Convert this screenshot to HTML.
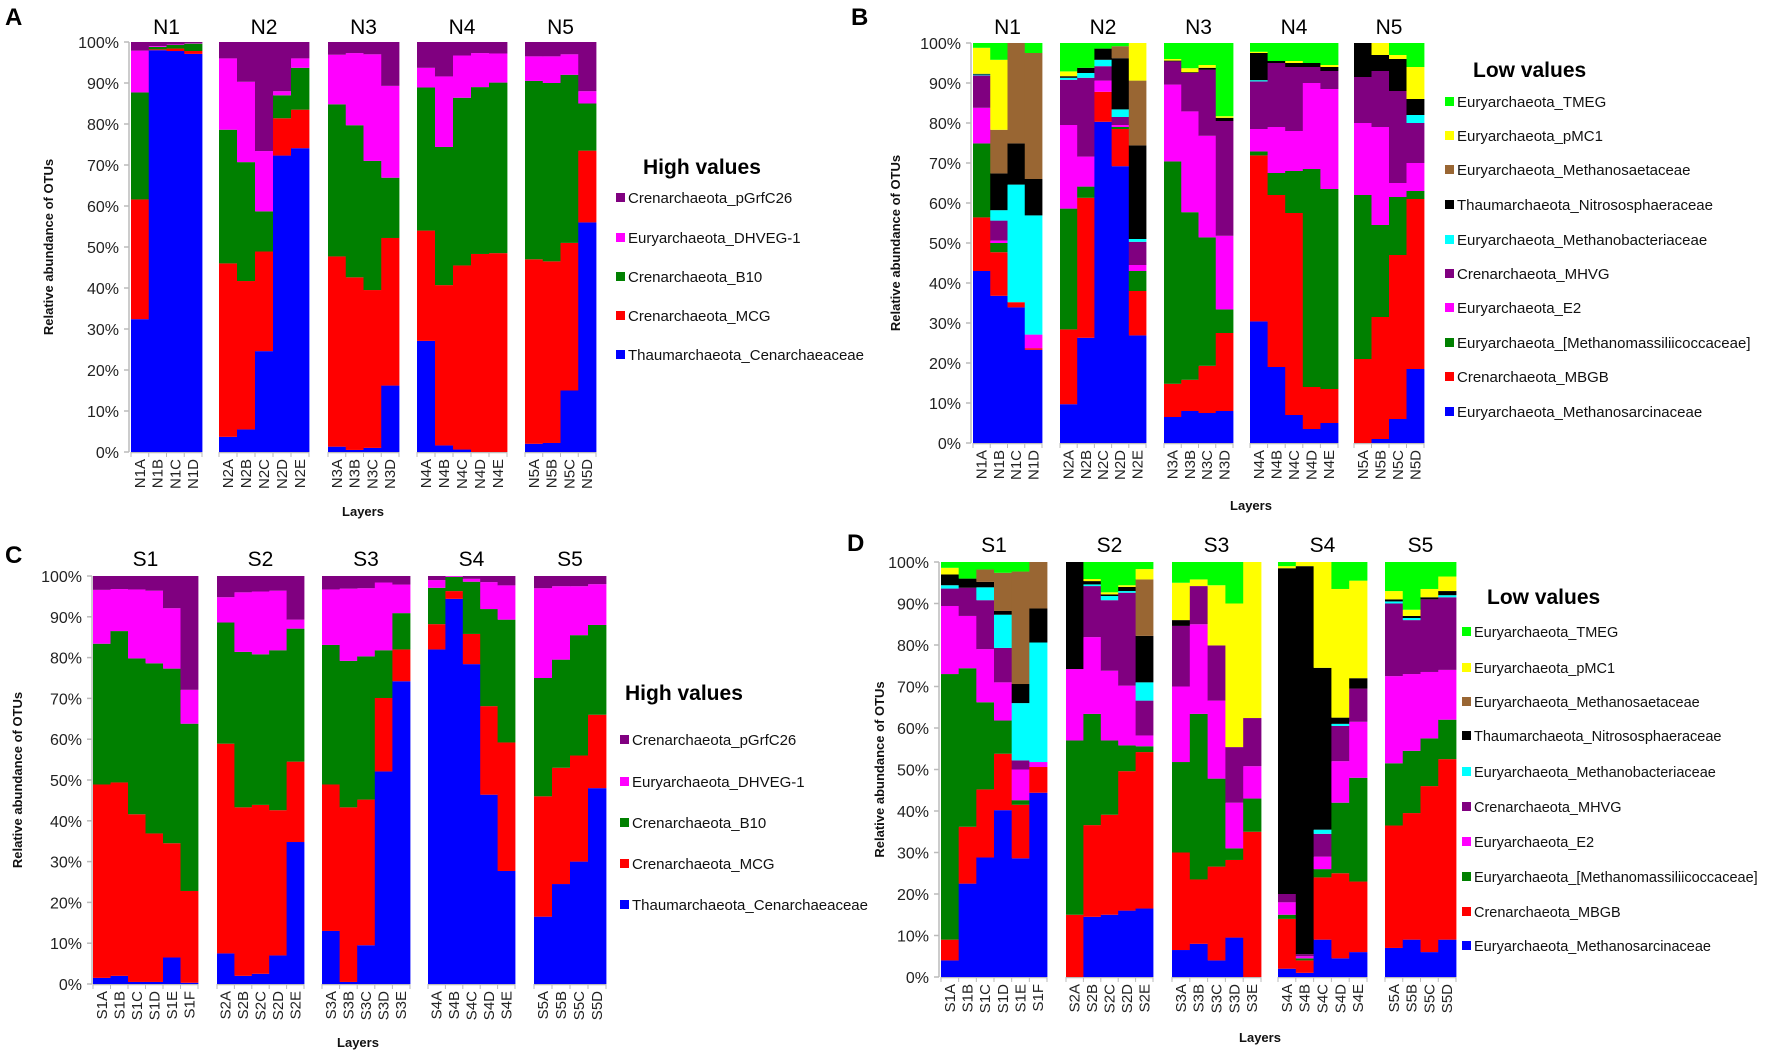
<!DOCTYPE html>
<html><head><meta charset="utf-8"><style>
html,body{margin:0;padding:0;background:#fff;}
svg{display:block;font-family:"Liberation Sans",sans-serif;}
</style></head><body>
<svg id="fig" width="1772" height="1051" viewBox="0 0 1772 1051" xmlns="http://www.w3.org/2000/svg"></svg>
<script>
// ---- series definitions ----
const highNames = ["Thaumarchaeota_Cenarchaeaceae","Crenarchaeota_MCG","Crenarchaeota_B10","Euryarchaeota_DHVEG-1","Crenarchaeota_pGrfC26"];
const highColors = ["#0000ff","#ff0000","#008000","#ff00ff","#800080"];
const lowNames = ["Euryarchaeota_Methanosarcinaceae","Crenarchaeota_MBGB","Euryarchaeota_[Methanomassiliicoccaceae]","Euryarchaeota_E2","Crenarchaeota_MHVG","Euryarchaeota_Methanobacteriaceae","Thaumarchaeota_Nitrososphaeraceae","Euryarchaeota_Methanosaetaceae","Euryarchaeota_pMC1","Euryarchaeota_TMEG"];
const lowColors = ["#0000ff","#ff0000","#008000","#ff00ff","#800080","#00ffff","#000000","#996633","#ffff00","#00ff00"];
const yTicks = ["0%","10%","20%","30%","40%","50%","60%","70%","80%","90%","100%"];

// ---- Panel A: cumulative tops (bottom->top), last series fills to 100 ----
const groupsA = ["N1","N2","N3","N4","N5"];
const labelsA = [["N1A","N1B","N1C","N1D"],["N2A","N2B","N2C","N2D","N2E"],["N3A","N3B","N3C","N3D"],["N4A","N4B","N4C","N4D","N4E"],["N5A","N5B","N5C","N5D"]];
const cumA = [
 [[32.4,61.6,87.7,97.9],[98,98.2,98.8,99],[97.8,98.4,99.3,99.4],[97.1,97.8,99.6,99.7]],
 [[3.7,46,78.6,96],[5.5,41.7,70.7,90.3],[24.6,48.9,58.7,73.4],[72.3,81.4,87,88],[74.1,83.5,93.7,96]],
 [[1.3,47.7,84.8,96.9],[0.5,42.6,79.7,97.3],[1,39.5,71,97],[16.2,52.2,66.9,89.3]],
 [[27.1,54,88.9,93.7],[1.6,40.7,74.4,91.6],[0.6,45.5,86.4,96.7],[0,48.3,89,97.3],[0,48.5,90.1,97.2]],
 [[2,47,90.5,96.5],[2.2,46.5,90,96.5],[15,51,92,97],[56,73.5,85,88]]
];
// ---- Panel B ----
const groupsB = groupsA;
const labelsB = labelsA;
const cumB = [
 [[43,56.4,74.9,83.8,91.9,92.1,92.3,92.3,98.8],[36.8,47.7,50,50.6,55.6,58.2,67.4,78.3,95.8],[33.9,35.2,35.2,35.2,35.2,64.6,74.9,100,100],[23.3,23.7,23.7,27.1,27.1,56.9,66,97.5,97.5]],
 [[9.7,28.4,58.6,79.5,90.8,91.3,91.7,91.7,92.9],[26.3,61.3,64.1,71.6,91.3,92.5,93.8,93.8,93.8],[80.3,87.8,87.8,90.6,94.2,95.8,98.6,98.6,98.6],[69.2,78.5,79,79.5,81.5,83.4,96.2,99.2,99.2],[26.9,38,43,44.5,50.3,51,74.4,90.6,100]],
 [[6.5,14.8,70.4,89.6,95.4,95.4,95.6,95.6,96],[8,15.8,57.7,82.9,92.5,92.5,92.7,92.7,93.7],[7.5,19.3,51.4,76.8,93.3,93.3,93.8,93.8,94.5],[8,27.5,33.4,51.8,80.5,80.5,81.3,81.3,81.7]],
 [[30.4,71.9,72.9,78.5,90.4,90.7,97.5,97.5,97.8],[19,62,67.5,79,95,95,95.5,95.5,95.5],[7,57.5,68,78,94,94,95,95,95.5],[3.5,14,68.5,90,94,94,95,95,95],[5,13.5,63.5,88.5,93,93,94,94,94.5]],
 [[0,21,62,80,91.5,91.5,100,100,100],[1,31.5,54.5,79,93,93,97,97,100],[6,47,61.5,65,88,88,96,96,97],[18.5,61,63,70,80,82,86,86,94]]
];
// ---- Panel C ----
const groupsC = ["S1","S2","S3","S4","S5"];
const labelsC = [["S1A","S1B","S1C","S1D","S1E","S1F"],["S2A","S2B","S2C","S2D","S2E"],["S3A","S3B","S3C","S3D","S3E"],["S4A","S4B","S4C","S4D","S4E"],["S5A","S5B","S5C","S5D"]];
const cumC = [
 [[1.5,48.9,83.4,96.6],[2,49.4,86.5,96.8],[0.5,41.6,79.8,96.7],[0.5,36.9,78.6,96.4],[6.5,34.5,77.3,92.1],[0.3,22.8,63.8,72.1]],
 [[7.5,58.9,88.6,94.8],[2,43.3,81.4,96],[2.5,43.9,80.8,96.2],[7,42.6,81.8,96.4],[34.8,54.5,87.1,89.3]],
 [[13,48.9,83.1,96.7],[0.5,43.3,79.2,96.9],[9.5,45.2,80.3,97],[52.1,70.1,81.8,98.4],[74.2,82,90.9,97.9]],
 [[82,88.2,97.1,99],[94.4,96.3,99.8,100],[78.4,85.8,98.6,99.3],[46.4,68.1,91.9,98.5],[27.7,59.2,89.3,97.7]],
 [[16.5,46,75,97],[24.5,53,79.5,97.5],[30,56,85.5,97.5],[48,66,88,98]]
];
// ---- Panel D ----
const groupsD = groupsC;
const labelsD = labelsC;
const cumD = [
 [[4,9,73,89.4,93.6,94.4,97,97,98.6],[22.5,36.2,74.4,87,93.8,93.8,96,96,96],[28.8,45.2,66.2,79,90.8,93.9,95.2,98.2,98.2],[40.2,53.8,61.8,71,79.3,87.3,88.2,97.4,97.4],[28.6,41.5,42.6,50,52.2,66,70.6,97.7,97.7],[44.4,50.6,50.6,51.8,51.8,80.6,88.8,100,100]],
 [[0,15,57,74.2,74.2,74.2,100,100,100],[14.5,36.6,63.4,81.9,94.2,94.6,95.4,95.4,95.9],[15,39.1,57,73.8,90.8,91.8,92.2,92.2,92.7],[16,49.6,55.8,70.2,92.6,93,94,94,94.4],[16.5,54.2,55.6,58.2,66.6,71,82.2,95.8,98.3]],
 [[6.5,30,51.8,70,84.6,84.6,86,86,95],[8,23.5,63.4,85,94.2,94.2,94.2,94.2,95.8],[4,26.6,47.8,66.6,79.9,79.9,79.9,79.9,94.4],[9.5,28.2,31,42,55.4,55.4,55.4,55.4,90],[0,35,43,50.8,62.4,62.4,62.4,62.4,100]],
 [[2,14,15,18,20,20,98.5,98.5,99],[1,4,4.5,5,5.5,5.5,99,99,100],[9,24,26,29,34.5,35.5,74.5,74.5,100],[4.5,25,42,52,60.5,61,62.5,62.5,93.5],[6,23,48,61.5,69.5,69.5,72,72,95.5]],
 [[7,36.5,51.5,72.5,90,90.5,91,91,93],[9,39.5,54.5,73,86,86.5,87,87,88.5],[6,46,57.5,73.5,91,91,91.5,91.5,93.5],[9,52.5,62,74,91.5,92,93,93,96.5]]
];

const NS = "http://www.w3.org/2000/svg";
const svg = document.getElementById("fig");
function mk(tag, attrs, parent){
  const e = document.createElementNS(NS, tag);
  for (const k in attrs) e.setAttribute(k, attrs[k]);
  (parent||svg).appendChild(e);
  return e;
}
function txt(str, attrs, parent){ const t = mk("text", attrs, parent); t.textContent = str; return t; }

function drawPanel(p){
  const g = mk("g", {});
  
  
  const y = v => p.y0 - (p.y0 - p.y100) * v / 100;
  const L = txt(p.letter, {x:p.letterX, y:p.letterY, "font-size":24, "font-weight":"bold", fill:"#000"}, g);
  
  
  const ax = mk("line", {x1:p.axisX, x2:p.axisX, y1:p.y0, y2:p.y100, stroke:"#bbb", "stroke-width":1.5}, g);
  
  
  yTicks.forEach((lab, i) => {
    const v = i * 10;
    mk("line", {x1:p.axisX-5, x2:p.axisX, y1:y(v), y2:y(v), stroke:"#bbb", "stroke-width":1.5}, g);
    const t = txt(lab, {x:p.axisX-10, y:y(v)+6, "font-size":16, "text-anchor":"end", fill:"#222"}, g);
    
    
  });
  const yl = txt("Relative abundance of OTUs", {x:0, y:0, "font-size":13, "font-weight":"bold", "text-anchor":"middle", fill:"#111", transform:`translate(${p.ylabX},${(p.y0+p.y100)/2}) rotate(-90)`}, g);
  
  
  p.groups.forEach((gname, gi) => {
    const [gx0, gx1] = p.groupX[gi];
    const labs = p.labels[gi];
    const bw = (gx1 - gx0) / labs.length;
    const gt = txt(gname, {x:(gx0+gx1)/2, y:p.titleY, "font-size":21, "text-anchor":"middle", fill:"#000"}, g);
    
    
    mk("line", {x1:gx0, x2:gx1, y1:p.y0+0.5, y2:p.y0+0.5, stroke:"#bbb", "stroke-width":1.5}, g);
    labs.forEach((lab, bi) => {
      const bx = gx0 + bi * bw;
      const cum = p.data[gi][bi].concat([100]);
      let prev = 0;
      cum.forEach((top, si) => {
        const tv = Math.min(top, 100);
        if (tv > prev) {
          const r = mk("rect", {x:bx, y:y(tv), width:bw+0.4, height:y(prev)-y(tv), fill:p.colors[si]}, g);
          
          
        }
        prev = Math.max(prev, tv);
      });
      mk("line", {x1:bx, x2:bx, y1:p.y0, y2:p.y0+5, stroke:"#bbb", "stroke-width":1}, g);
      const xt = txt(lab, {x:0, y:0, "font-size":15, "text-anchor":"end", fill:"#222", transform:`translate(${bx+bw/2+5},${p.y0+7}) rotate(-90)`}, g);
      
      
    });
    mk("line", {x1:gx1, x2:gx1, y1:p.y0, y2:p.y0+5, stroke:"#bbb", "stroke-width":1}, g);
  });
  const xl = txt("Layers", {x:p.layersX, y:p.layersY, "font-size":13, "font-weight":"bold", "text-anchor":"middle", fill:"#111"}, g);
  
  
  const lt = txt(p.legTitle, {x:p.legTitleX, y:p.legTitleY, "font-size":21, "font-weight":"bold", fill:"#000"}, g);
  
  
  const n = p.names.length;
  for (let k = 0; k < n; k++) {
    const si = n - 1 - k;
    const yy = p.legY[k];
    const sq = mk("rect", {x:p.legSqX, y:yy-5, width:9, height:9, fill:p.colors[si]}, g);
    
    
    const et = txt(p.names[si], {x:p.legSqX+12, y:yy+5, "font-size":p.legFont, fill:"#111"}, g);
    
    
  }
}

drawPanel({letter:"A", letterX:5, letterY:25, axisX:129, y0:452, y100:42, ylabX:53, titleY:34,
  groups:groupsA, labels:labelsA, data:cumA, colors:highColors, names:highNames,
  groupX:[[131,202],[219,309],[328,399],[417,507],[525,596]],
  layersX:363, layersY:516, legTitle:"High values", legTitleX:643, legTitleY:174, legSqX:616, legFont:15,
  legY:[198,238,277,316,355]});
drawPanel({letter:"B", letterX:851, letterY:25, axisX:971, y0:443, y100:43, ylabX:900, titleY:34,
  groups:groupsB, labels:labelsB, data:cumB, colors:lowColors, names:lowNames,
  groupX:[[973,1042],[1060,1146],[1164,1233],[1250,1338],[1354,1424]],
  layersX:1251, layersY:510, legTitle:"Low values", legTitleX:1473, legTitleY:77, legSqX:1445, legFont:15,
  legY:[102,136,170,205,240,274,308,343,377,412]});
drawPanel({letter:"C", letterX:5, letterY:563, axisX:92, y0:984, y100:576, ylabX:22, titleY:566,
  groups:groupsC, labels:labelsC, data:cumC, colors:highColors, names:highNames,
  groupX:[[93,198],[217,304],[322,410],[428,515],[534,606]],
  layersX:358, layersY:1047, legTitle:"High values", legTitleX:625, legTitleY:700, legSqX:620, legFont:15,
  legY:[740,782,823,864,905]});
drawPanel({letter:"D", letterX:847, letterY:551, axisX:939, y0:977, y100:562, ylabX:884, titleY:552,
  groups:groupsD, labels:labelsD, data:cumD, colors:lowColors, names:lowNames,
  groupX:[[941,1047],[1066,1153],[1172,1261],[1278,1367],[1385,1456]],
  layersX:1260, layersY:1042, legTitle:"Low values", legTitleX:1487, legTitleY:604, legSqX:1462, legFont:14.5,
  legY:[632,668,702,736,772,807,842,877,912,946]});
</script>
</body></html>
